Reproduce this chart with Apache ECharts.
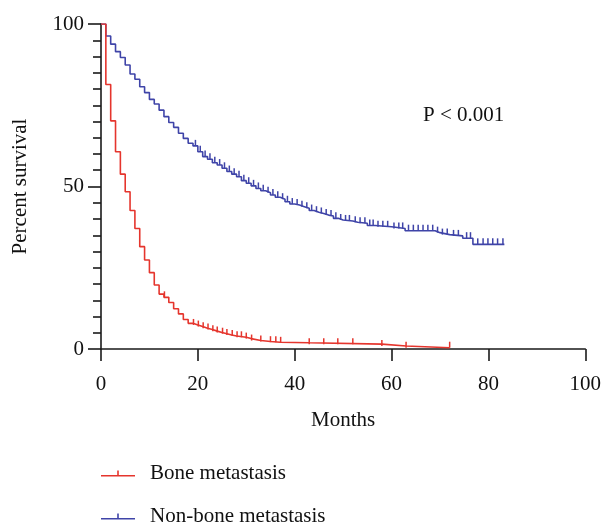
<!DOCTYPE html>
<html>
<head>
<meta charset="utf-8">
<script src="https://cdn.jsdelivr.net/npm/echarts@6/dist/echarts.min.js"></script>
<style>html,body{margin:0;padding:0;background:#fff;}#c{width:604px;height:523px;}</style>
</head>
<body>
<div id="c"></div>
<script>
// Bone metastasis KM steps (time in months, percent survival after the step)
const boneTimes = [0, 1, 2, 3, 4, 5, 6, 7, 8, 9, 10, 11, 12, 13, 14, 15, 16, 17, 18, 19, 20, 21, 22, 23, 24, 25, 26, 27, 28, 30, 31, 33, 35, 37, 43, 58, 63, 72];
const boneSurv  = [100, 81.4, 70.2, 60.7, 53.8, 48.4, 42.6, 37.1, 31.5, 27.4, 23.5, 19.7, 16.9, 15.9, 14.3, 12.4, 10.8, 9.1, 7.9, 7.4, 6.9, 6.4, 6.0, 5.5, 5.1, 4.7, 4.3, 4.0, 3.6, 3.2, 2.6, 2.3, 2.1, 1.9, 1.5, 0.9, 0.4, 0.4];
const boneCensor = [13.1, 19.1, 20.1, 21.1, 22.1, 23.1, 24.0, 25.1, 26.0, 27.1, 28.1, 29.0, 30.0, 31.1, 33.0, 35.0, 36.1, 37.1, 43.0, 46.0, 48.9, 52.0, 58.0, 63.0, 72.0];

// Non-bone metastasis KM steps
const nonBoneTimes = [0, 1, 2, 3, 4, 5, 6, 7, 8, 9, 10, 11, 12, 13, 14, 15, 16, 17, 18, 19, 20, 21, 22, 23, 24, 25, 26, 27, 28, 29, 30, 31, 32, 33, 34, 35, 36, 37, 38, 39, 40, 41, 42, 43, 44, 45, 46, 47, 48, 49, 50, 52, 53, 55, 56.6, 60, 62.8, 69, 70, 72, 74.7, 76.8, 83.3];
const nonBoneSurv  = [100, 96.3, 93.8, 91.5, 89.7, 87.4, 84.6, 83.0, 80.7, 78.9, 76.8, 75.4, 73.5, 71.5, 69.7, 68.2, 66.4, 64.8, 63.3, 62.5, 60.7, 59.2, 58.4, 57.3, 56.6, 55.6, 54.6, 53.8, 53.0, 51.8, 51.0, 50.2, 49.4, 48.7, 48.1, 47.4, 46.7, 46.1, 45.3, 44.6, 44.3, 43.8, 43.3, 42.6, 42.1, 41.7, 41.2, 40.9, 40.2, 39.7, 39.4, 39.0, 38.7, 38.0, 37.6, 37.1, 36.4, 35.8, 35.2, 34.8, 34.1, 32.2, 32.2];
const nonBoneCensor = [19.5, 20.5, 21.5, 22.5, 23.5, 24.5, 25.5, 26.5, 27.5, 28.5, 29.5, 30.5, 31.5, 32.5, 33.5, 34.5, 35.5, 36.5, 37.5, 38.5, 39.5, 40.5, 41.5, 42.5, 43.5, 44.5, 45.5, 46.5, 47.5, 48.5, 49.5, 50.5, 51.3, 52.5, 53.5, 54.5, 55.5, 56.2, 57.2, 58.2, 59.2, 60.5, 61.5, 62.3, 63.5, 64.5, 65.5, 66.5, 67.5, 68.5, 69.5, 70.5, 71.5, 72.8, 73.8, 75.5, 76.3, 77.8, 78.9, 79.9, 80.9, 81.9, 83.0];

const seriesNames = ['Bone metastasis', 'Non-bone metastasis'];
const pText = 'P < 0.001';

const RED = '#e5352d';
const BLUE = '#3f44a8';
const FONT = 'Liberation Serif';
const FS = 21;

function survAt(times, surv, t) {
  let v = surv[0];
  for (let i = 0; i < times.length; i++) { if (times[i] <= t) v = surv[i]; }
  return v;
}
const pairs = (ts, ss) => ts.map((t, i) => [t, ss[i]]);
const censorPts = (cs, ts, ss) => cs.map(t => [t, survAt(ts, ss, t)]);

function censorSeries(name, data, color) {
  return {
    name: name, type: 'custom', data: data, z: 3,
    encode: {x: 0, y: 1},
    renderItem: function (params, api) {
      const p = api.coord([api.value(0), api.value(1)]);
      return {type: 'line', shape: {x1: p[0], y1: p[1], x2: p[0], y2: p[1] - 6},
              style: {stroke: color, lineWidth: 1.5}};
    }
  };
}

const icon = 'path://M0,9 L34,9 L34,10.5 L0,10.5 Z M16.2,4.5 L17.8,4.5 L17.8,9 L16.2,9 Z';
function legendFor(name, top) {
  return {
    data: [name], orient: 'horizontal', left: 101, top: top, padding: 0,
    icon: icon, itemWidth: 34, itemHeight: 10.5,
    itemStyle: {borderWidth: 0},
    textStyle: {fontFamily: FONT, fontSize: FS, color: '#111', padding: [0, 0, 0, 10]}
  };
}

const chart = echarts.init(document.getElementById('c'));
chart.setOption({
  animation: false,
  backgroundColor: '#fff',
  grid: {left: 101, right: 15, top: 24, bottom: 174},
  xAxis: {
    type: 'value', min: 0, max: 100, interval: 20,
    name: 'Months', nameLocation: 'middle', nameGap: 61,
    nameTextStyle: {fontFamily: FONT, fontSize: FS, color: '#111'},
    axisLine: {show: true, lineStyle: {color: '#1a1a1a', width: 1.6}},
    axisTick: {show: true, length: 12, lineStyle: {color: '#1a1a1a', width: 1.6}},
    axisLabel: {margin: 25, fontFamily: FONT, fontSize: FS, color: '#111'},
    splitLine: {show: false}
  },
  yAxis: {
    type: 'value', min: 0, max: 100, interval: 50,
    name: 'Percent survival', nameLocation: 'middle', nameGap: 70,
    nameTextStyle: {fontFamily: FONT, fontSize: FS, color: '#111'},
    axisLine: {show: true, lineStyle: {color: '#1a1a1a', width: 1.6}},
    axisTick: {show: true, length: 13, lineStyle: {color: '#1a1a1a', width: 1.6}},
    minorTick: {show: true, splitNumber: 10, length: 8, lineStyle: {color: '#1a1a1a', width: 1.6}},
    axisLabel: {margin: 17, fontFamily: FONT, fontSize: FS, color: '#111'},
    splitLine: {show: false}, minorSplitLine: {show: false}
  },
  legend: [legendFor(seriesNames[0], 463), legendFor(seriesNames[1], 506)],
  graphic: [{
    type: 'text', left: 423, top: 105,
    style: {text: pText, font: FS + 'px "Liberation Serif"', fill: '#111'}
  }],
  series: [
    {name: seriesNames[0], type: 'line', step: 'end', data: pairs(boneTimes, boneSurv),
     showSymbol: false, symbol: 'none', color: RED, lineStyle: {color: RED, width: 1.6}, z: 3},
    {name: seriesNames[1], type: 'line', step: 'end', data: pairs(nonBoneTimes, nonBoneSurv),
     showSymbol: false, symbol: 'none', color: BLUE, lineStyle: {color: BLUE, width: 1.6}, z: 2},
    censorSeries('boneCensor', censorPts(boneCensor, boneTimes, boneSurv), RED),
    censorSeries('nonBoneCensor', censorPts(nonBoneCensor, nonBoneTimes, nonBoneSurv), BLUE)
  ]
});
</script>
</body>
</html>
